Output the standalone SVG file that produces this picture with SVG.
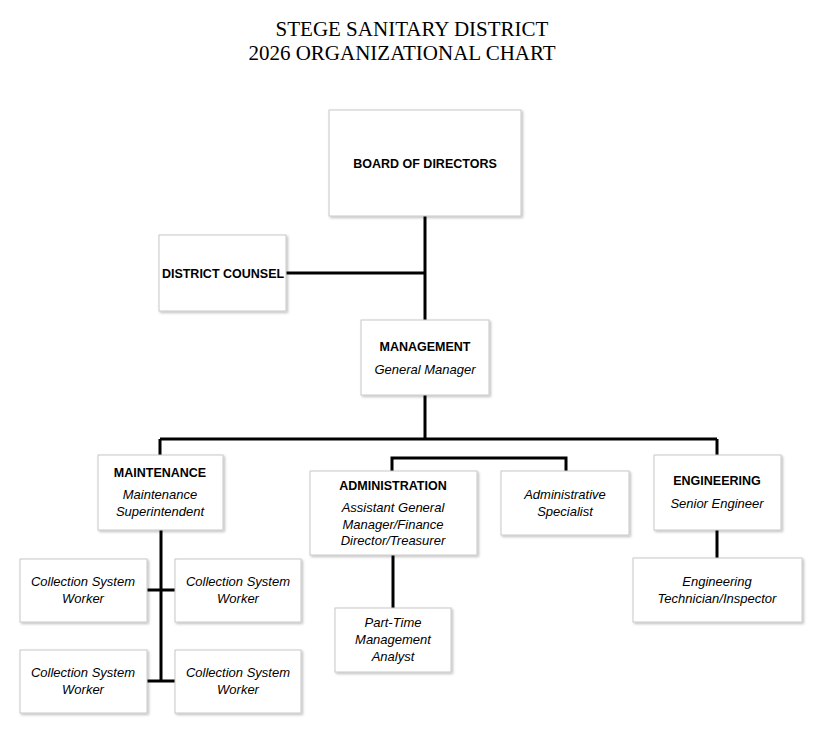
<svg xmlns="http://www.w3.org/2000/svg" width="825" height="737" viewBox="0 0 825 737">
<defs>
<filter id="sh" x="-10%" y="-10%" width="130%" height="130%"><feDropShadow dx="1.5" dy="1.5" stdDeviation="1" flood-color="#000" flood-opacity="0.25"/></filter>
</defs>
<style>
.b{fill:#fff;stroke:#c8c8c8;stroke-width:1;filter:url(#sh)}
text{font-family:"Liberation Sans",Arial,sans-serif;font-size:13px;text-anchor:middle;fill:#000}
.t{font-weight:bold;font-size:12.5px}
.i{font-style:italic}
.h{font-family:"Liberation Serif","Times New Roman",serif;font-size:21px}
.c{stroke:#000;stroke-width:3;fill:none}
</style>
<rect width="825" height="737" fill="#fff"/>
<text class="h" x="412" y="36">STEGE SANITARY DISTRICT</text>
<text class="h" x="402" y="60">2026 ORGANIZATIONAL CHART</text>
<g id="connectors">
<path class="c" d="M425 216V320M286 273H425M425 395V439M160 439H717M160 439V455M717 439V455M392 471V458H566V471M717 530V558M393 555V608M161 530V681M147 590H175M147 681H175"/>
</g>
<g id="board"><rect class="b" x="329" y="110" width="192" height="106"/><text class="t" x="425" y="168">BOARD OF DIRECTORS</text></g>
<g id="counsel"><rect class="b" x="159" y="235" width="127" height="76"/><text class="t" x="223" y="278">DISTRICT COUNSEL</text></g>
<g id="management"><rect class="b" x="361" y="320" width="128" height="75"/><text class="t" x="425" y="351">MANAGEMENT</text><text class="i" x="425" y="374">General Manager</text></g>
<g id="maintenance"><rect class="b" x="98" y="455" width="125" height="75"/><text class="t" x="160" y="477">MAINTENANCE</text><text class="i" x="160" y="499">Maintenance</text><text class="i" x="160" y="516">Superintendent</text></g>
<g id="administration"><rect class="b" x="310" y="471" width="167" height="84"/><text class="t" x="393" y="490">ADMINISTRATION</text><text class="i" x="393" y="512">Assistant General</text><text class="i" x="393" y="529">Manager/Finance</text><text class="i" x="393" y="545">Director/Treasurer</text></g>
<g id="adminspec"><rect class="b" x="501" y="471" width="128" height="64"/><text class="i" x="565" y="499">Administrative</text><text class="i" x="565" y="516">Specialist</text></g>
<g id="engineering"><rect class="b" x="654" y="455" width="127" height="75"/><text class="t" x="717" y="485">ENGINEERING</text><text class="i" x="717" y="508">Senior Engineer</text></g>
<g id="engtech"><rect class="b" x="633" y="558" width="169" height="64"/><text class="i" x="717" y="586">Engineering</text><text class="i" x="717" y="603">Technician/Inspector</text></g>
<g id="parttime"><rect class="b" x="335" y="608" width="116" height="64"/><text class="i" x="393" y="627">Part-Time</text><text class="i" x="393" y="644">Management</text><text class="i" x="393" y="661">Analyst</text></g>
<g id="csw1"><rect class="b" x="20" y="559" width="127" height="63"/><text class="i" x="83" y="586">Collection System</text><text class="i" x="83" y="603">Worker</text></g>
<g id="csw2"><rect class="b" x="175" y="559" width="126" height="63"/><text class="i" x="238" y="586">Collection System</text><text class="i" x="238" y="603">Worker</text></g>
<g id="csw3"><rect class="b" x="20" y="650" width="127" height="63"/><text class="i" x="83" y="677">Collection System</text><text class="i" x="83" y="694">Worker</text></g>
<g id="csw4"><rect class="b" x="175" y="650" width="126" height="63"/><text class="i" x="238" y="677">Collection System</text><text class="i" x="238" y="694">Worker</text></g>
</svg>
